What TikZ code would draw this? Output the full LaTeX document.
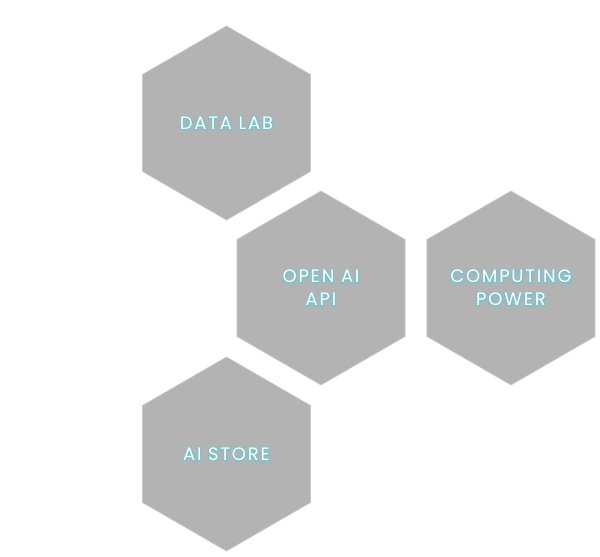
\documentclass[tikz,border=0pt]{standalone}
\usepackage{fontspec}
\setmainfont{Poppins}
\newfontfamily\hexfont[LetterSpace=10]{Poppins}
\usepackage{xcolor}
\usepackage{tikz}
\usetikzlibrary{shapes.geometric, positioning}

\definecolor{hexgray}{HTML}{B3B3B3}
\definecolor{hexline}{HTML}{C8C8C8}
% teal halo behind the white letters: stroked copy of the glyphs
\newcommand{\glow}[1]{\leavevmode\rlap{\special{pdf:literal direct 1 Tr 2.6 w 1 J 1 j 0.47 0.77 0.80 RG}#1\special{pdf:literal direct 0 Tr}}#1}

\begin{document}
\begin{tikzpicture}[x=1pt, y=-1pt]
\tikzstyle{hexbox} = [regular polygon, regular polygon sides=6, shape border rotate=30,
  draw=hexline, line width=0.6pt, fill=hexgray, minimum size=194pt, inner sep=0pt]
\tikzstyle{hexlabel} = [text=white, font=\hexfont\fontsize{18}{23}\selectfont, align=center]

\useasboundingbox (0,0) rectangle (600,557);

\node (datalab) [hexbox] at (226.5,123) {};
\node (openai) [hexbox] at (321,288) {};
\node (computing) [hexbox] at (511,288) {};
\node (aistore) [hexbox] at (226.5,454) {};

\node (datalabtext) [hexlabel] at (datalab) {\glow{DATA LAB}};
\node (openaitext) [hexlabel] at (openai) {\glow{OPEN AI}\\\glow{API}};
\node (computingtext) [hexlabel] at (computing) {\glow{COMPUTING}\\\glow{POWER}};
\node (aistoretext) [hexlabel] at (aistore) {\glow{AI STORE}};

\end{tikzpicture}
\end{document}
